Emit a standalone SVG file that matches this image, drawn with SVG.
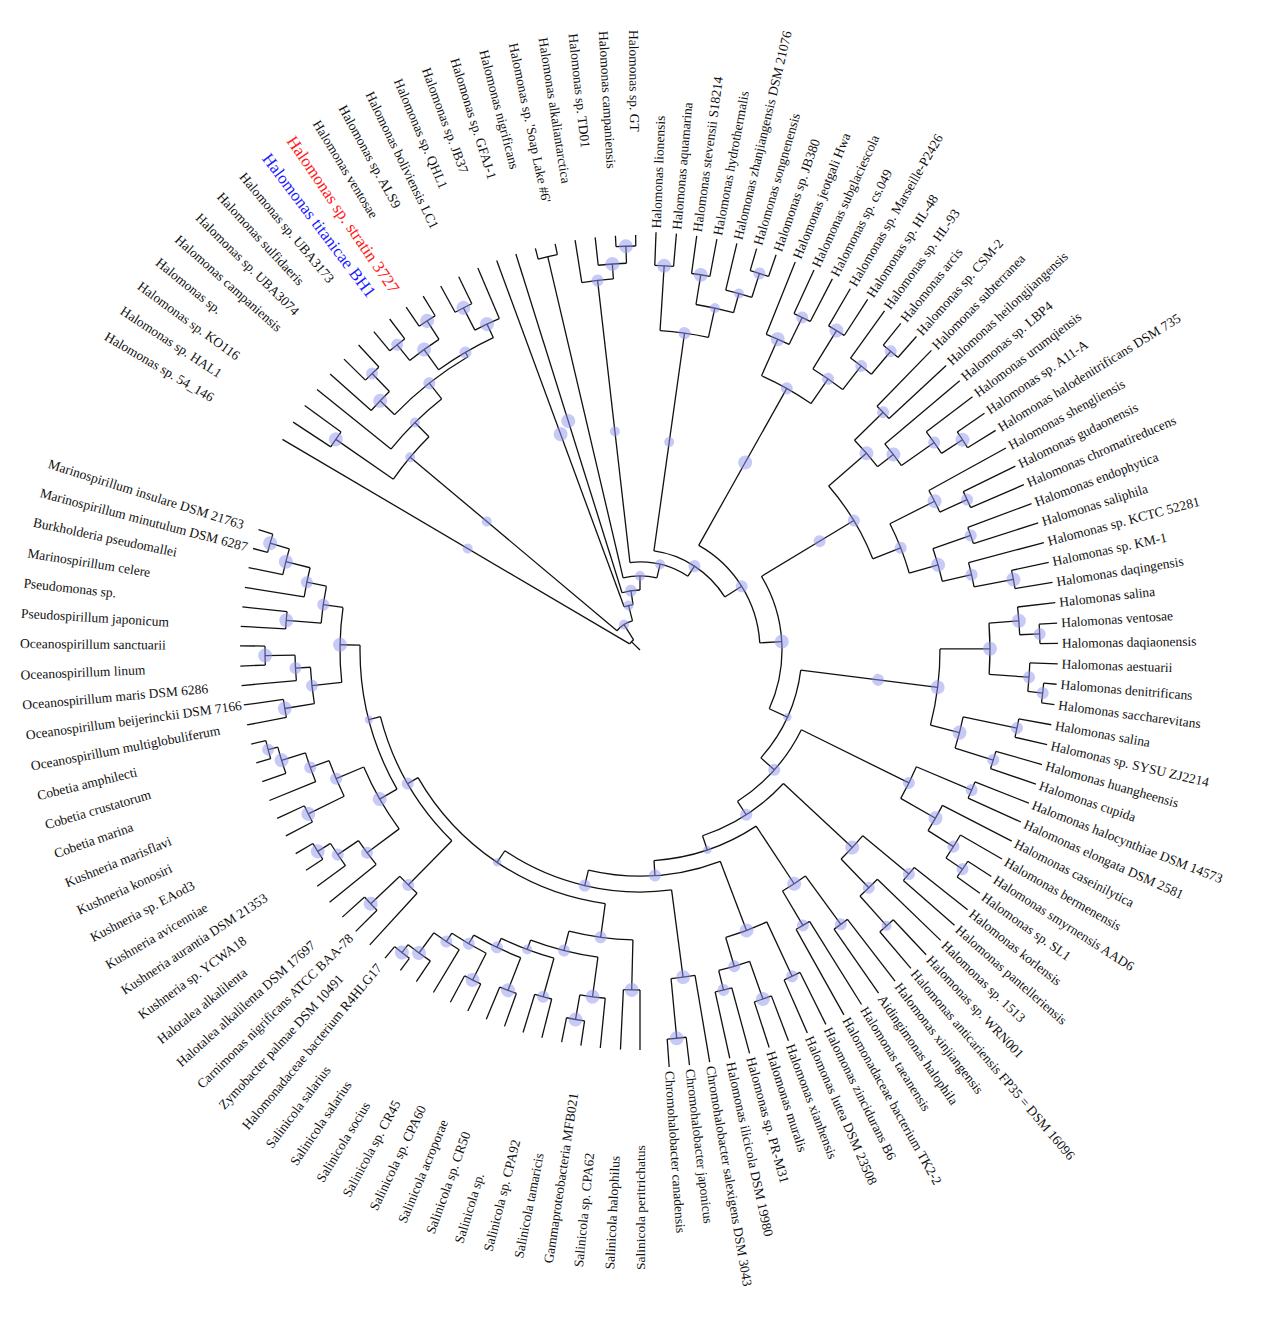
<svg xmlns="http://www.w3.org/2000/svg" width="1263" height="1317" viewBox="0 0 1263 1317">
<style>
.t{font-family:"Liberation Serif","Times New Roman",serif;font-size:13.5px;fill:#111;dominant-baseline:central}
.big{font-size:17px}
.e line,.e circle{stroke:#111;stroke-width:1.3;fill:none}
.m circle{fill:#8f96ee;opacity:.5}
</style>
<rect width="1263" height="1317" fill="#fff"/>
<g id="connectors" class="e" transform="translate(640 650)">
<line x1="0" x2="12" transform="rotate(224.15)"/>
<circle r="12" pathLength="360" stroke-dasharray="27.3 400" transform="rotate(210.5)"/>
<line x1="12" x2="415" transform="rotate(210.5)"/><line x1="12" x2="30" transform="rotate(237.8)"/>
<circle r="30" pathLength="360" stroke-dasharray="35.55 400" transform="rotate(220)"/>
<line x1="30" x2="300" transform="rotate(220)"/><line x1="30" x2="46" transform="rotate(255.55)"/>
<circle r="46" pathLength="360" stroke-dasharray="11.5 400" transform="rotate(249.8)"/>
<line x1="46" x2="415" transform="rotate(249.8)"/><line x1="46" x2="60" transform="rotate(261.3)"/>
<circle r="60" pathLength="360" stroke-dasharray="17.4 400" transform="rotate(252.6)"/>
<line x1="60" x2="415" transform="rotate(252.6)"/><line x1="60" x2="74" transform="rotate(270)"/>
<circle r="74" pathLength="360" stroke-dasharray="26.4 400" transform="rotate(256.8)"/>
<line x1="74" x2="404" transform="rotate(256.8)"/><line x1="74" x2="88" transform="rotate(283.2)"/>
<circle r="88" pathLength="360" stroke-dasharray="39.55 400" transform="rotate(263.45)"/>
<line x1="88" x2="372" transform="rotate(263.45)"/><line x1="88" x2="100" transform="rotate(303)"/>
<circle r="100" pathLength="360" stroke-dasharray="49.95 400" transform="rotate(278)"/>
<line x1="100" x2="320" transform="rotate(278)"/><line x1="100" x2="120" transform="rotate(327.95)"/>
<circle r="120" pathLength="360" stroke-dasharray="57.3 400" transform="rotate(299.3)"/>
<line x1="120" x2="300" transform="rotate(299.3)"/><line x1="120" x2="142" transform="rotate(356.6)"/>
<circle r="142" pathLength="360" stroke-dasharray="55.65 400" transform="rotate(328.8)"/>
<line x1="142" x2="250" transform="rotate(328.8)"/><line x1="142" x2="162" transform="rotate(384.45)"/>
<circle r="162" pathLength="360" stroke-dasharray="34.6 400" transform="rotate(367.15)"/>
<line x1="162" x2="300" transform="rotate(367.15)"/><line x1="162" x2="180" transform="rotate(401.75)"/>
<circle r="180" pathLength="360" stroke-dasharray="30.9 400" transform="rotate(386.3)"/>
<line x1="180" x2="300" transform="rotate(386.3)"/><line x1="180" x2="196" transform="rotate(417.2)"/>
<circle r="196" pathLength="360" stroke-dasharray="28.45 400" transform="rotate(402.95)"/>
<line x1="196" x2="290" transform="rotate(402.95)"/><line x1="196" x2="211" transform="rotate(431.4)"/>
<circle r="211" pathLength="360" stroke-dasharray="29.6 400" transform="rotate(416.6)"/>
<line x1="211" x2="280" transform="rotate(416.6)"/><line x1="211" x2="226" transform="rotate(446.2)"/>
<circle r="226" pathLength="360" stroke-dasharray="34 400" transform="rotate(429.2)"/>
<line x1="226" x2="300" transform="rotate(429.2)"/><line x1="226" x2="242" transform="rotate(463.2)"/>
<circle r="242" pathLength="360" stroke-dasharray="41.45 400" transform="rotate(442.5)"/>
<line x1="242" x2="330" transform="rotate(442.5)"/><line x1="242" x2="256" transform="rotate(483.95)"/>
<circle r="256" pathLength="360" stroke-dasharray="52.3 400" transform="rotate(457.8)"/>
<line x1="256" x2="290" transform="rotate(457.8)"/><line x1="256" x2="268" transform="rotate(510.1)"/>
<circle r="268" pathLength="360" stroke-dasharray="31 400" transform="rotate(494.6)"/>
<line x1="268" x2="330" transform="rotate(494.6)"/><line x1="268" x2="280" transform="rotate(525.6)"/>
<circle r="280" pathLength="360" stroke-dasharray="30.8 400" transform="rotate(510.2)"/>
<line x1="280" x2="300" transform="rotate(510.2)"/><line x1="280" x2="300" transform="rotate(541)"/>
<!-- TL clade -->
<circle r="300" pathLength="360" stroke-dasharray="10.6 400" transform="rotate(214.7)"/>
<line x1="300" x2="370" transform="rotate(214.7)"/><line x1="300" x2="320" transform="rotate(225.3)"/>
<circle r="370" pathLength="360" stroke-dasharray="2.8 400" transform="rotate(213.3)"/>
<line x1="370" x2="415" transform="rotate(213.3)"/><line x1="370" x2="415" transform="rotate(216.1)"/>
<circle r="320" pathLength="360" stroke-dasharray="12.8 400" transform="rotate(218.9)"/>
<line x1="320" x2="415" transform="rotate(218.9)"/><line x1="320" x2="340" transform="rotate(231.7)"/>
<circle r="340" pathLength="360" stroke-dasharray="15.8 400" transform="rotate(223.8)"/>
<line x1="340" x2="360" transform="rotate(223.8)"/><line x1="340" x2="345" transform="rotate(239.6)"/>
<circle r="360" pathLength="360" stroke-dasharray="4.2 400" transform="rotate(221.7)"/>
<line x1="360" x2="415" transform="rotate(221.7)"/><line x1="360" x2="385" transform="rotate(225.9)"/>
<circle r="385" pathLength="360" stroke-dasharray="2.8 400" transform="rotate(224.5)"/>
<line x1="385" x2="415" transform="rotate(224.5)"/><line x1="385" x2="415" transform="rotate(227.3)"/>
<circle r="345" pathLength="360" stroke-dasharray="10.55 400" transform="rotate(234.3)"/>
<line x1="345" x2="370" transform="rotate(234.3)"/><line x1="345" x2="360" transform="rotate(244.85)"/>
<circle r="370" pathLength="360" stroke-dasharray="5.6 400" transform="rotate(231.5)"/>
<line x1="370" x2="390" transform="rotate(231.5)"/><line x1="370" x2="392" transform="rotate(237.1)"/>
<circle r="390" pathLength="360" stroke-dasharray="2.8 400" transform="rotate(230.1)"/>
<line x1="390" x2="415" transform="rotate(230.1)"/><line x1="390" x2="415" transform="rotate(232.9)"/>
<circle r="392" pathLength="360" stroke-dasharray="2.8 400" transform="rotate(235.7)"/>
<line x1="392" x2="415" transform="rotate(235.7)"/><line x1="392" x2="415" transform="rotate(238.5)"/>
<circle r="360" pathLength="360" stroke-dasharray="4.3 400" transform="rotate(242.7)"/>
<line x1="360" x2="385" transform="rotate(242.7)"/><line x1="360" x2="415" transform="rotate(247)"/>
<circle r="385" pathLength="360" stroke-dasharray="2.8 400" transform="rotate(241.3)"/>
<line x1="385" x2="415" transform="rotate(241.3)"/><line x1="385" x2="415" transform="rotate(244.1)"/>
<!-- B16-B21 -->
<circle r="404" pathLength="360" stroke-dasharray="2.8 400" transform="rotate(255.4)"/>
<line x1="404" x2="415" transform="rotate(255.4)"/><line x1="404" x2="415" transform="rotate(258.2)"/>
<circle r="372" pathLength="360" stroke-dasharray="4.9 400" transform="rotate(261)"/>
<line x1="372" x2="415" transform="rotate(261)"/><line x1="372" x2="387" transform="rotate(265.9)"/>
<circle r="387" pathLength="360" stroke-dasharray="4.2 400" transform="rotate(263.8)"/>
<line x1="387" x2="415" transform="rotate(263.8)"/><line x1="387" x2="404" transform="rotate(268)"/>
<circle r="404" pathLength="360" stroke-dasharray="2.8 400" transform="rotate(266.6)"/>
<line x1="404" x2="415" transform="rotate(266.6)"/><line x1="404" x2="415" transform="rotate(269.4)"/>
<!-- C1 -->
<circle r="320" pathLength="360" stroke-dasharray="8.75 400" transform="rotate(273.6)"/>
<line x1="320" x2="385" transform="rotate(273.6)"/><line x1="320" x2="350" transform="rotate(282.35)"/>
<circle r="385" pathLength="360" stroke-dasharray="2.8 400" transform="rotate(272.2)"/>
<line x1="385" x2="418" transform="rotate(272.2)"/><line x1="385" x2="418" transform="rotate(275)"/>
<circle r="350" pathLength="360" stroke-dasharray="6.3 400" transform="rotate(279.2)"/>
<line x1="350" x2="380" transform="rotate(279.2)"/><line x1="350" x2="370" transform="rotate(285.5)"/>
<circle r="380" pathLength="360" stroke-dasharray="2.8 400" transform="rotate(277.8)"/>
<line x1="380" x2="418" transform="rotate(277.8)"/><line x1="380" x2="418" transform="rotate(280.6)"/>
<circle r="370" pathLength="360" stroke-dasharray="4.2 400" transform="rotate(283.4)"/>
<line x1="370" x2="418" transform="rotate(283.4)"/><line x1="370" x2="395" transform="rotate(287.6)"/>
<circle r="395" pathLength="360" stroke-dasharray="2.8 400" transform="rotate(286.2)"/>
<line x1="395" x2="418" transform="rotate(286.2)"/><line x1="395" x2="418" transform="rotate(289)"/>
<!-- C2 -->
<circle r="300" pathLength="360" stroke-dasharray="10.85 400" transform="rotate(293.9)"/>
<line x1="300" x2="340" transform="rotate(293.9)"/><line x1="300" x2="330" transform="rotate(304.75)"/>
<circle r="340" pathLength="360" stroke-dasharray="4.2 400" transform="rotate(291.8)"/>
<line x1="340" x2="418" transform="rotate(291.8)"/><line x1="340" x2="370" transform="rotate(296)"/>
<circle r="370" pathLength="360" stroke-dasharray="2.8 400" transform="rotate(294.6)"/>
<line x1="370" x2="418" transform="rotate(294.6)"/><line x1="370" x2="418" transform="rotate(297.4)"/>
<circle r="330" pathLength="360" stroke-dasharray="6.3 400" transform="rotate(301.6)"/>
<line x1="330" x2="375" transform="rotate(301.6)"/><line x1="330" x2="360" transform="rotate(307.9)"/>
<circle r="375" pathLength="360" stroke-dasharray="2.8 400" transform="rotate(300.2)"/>
<line x1="375" x2="418" transform="rotate(300.2)"/><line x1="375" x2="418" transform="rotate(303)"/>
<circle r="360" pathLength="360" stroke-dasharray="4.2 400" transform="rotate(305.8)"/>
<line x1="360" x2="418" transform="rotate(305.8)"/><line x1="360" x2="390" transform="rotate(310)"/>
<circle r="390" pathLength="360" stroke-dasharray="2.8 400" transform="rotate(308.6)"/>
<line x1="390" x2="418" transform="rotate(308.6)"/><line x1="390" x2="418" transform="rotate(311.4)"/>
<!-- C3 -->
<circle r="250" pathLength="360" stroke-dasharray="19.6 400" transform="rotate(319)"/>
<line x1="250" x2="300" transform="rotate(319)"/><line x1="250" x2="280" transform="rotate(338.6)"/>
<circle r="300" pathLength="360" stroke-dasharray="6.7 400" transform="rotate(315.65)"/>
<line x1="300" x2="340" transform="rotate(315.65)"/><line x1="300" x2="320" transform="rotate(322.35)"/>
<circle r="340" pathLength="360" stroke-dasharray="2.9 400" transform="rotate(314.2)"/>
<line x1="340" x2="418" transform="rotate(314.2)"/><line x1="340" x2="418" transform="rotate(317.1)"/>
<circle r="320" pathLength="360" stroke-dasharray="4.9 400" transform="rotate(319.9)"/>
<line x1="320" x2="418" transform="rotate(319.9)"/><line x1="320" x2="360" transform="rotate(324.8)"/>
<circle r="360" pathLength="360" stroke-dasharray="4.2 400" transform="rotate(322.7)"/>
<line x1="360" x2="418" transform="rotate(322.7)"/><line x1="360" x2="385" transform="rotate(326.9)"/>
<circle r="385" pathLength="360" stroke-dasharray="2.8 400" transform="rotate(325.5)"/>
<line x1="385" x2="418" transform="rotate(325.5)"/><line x1="385" x2="418" transform="rotate(328.3)"/>
<circle r="280" pathLength="360" stroke-dasharray="10.85 400" transform="rotate(333.2)"/>
<line x1="280" x2="330" transform="rotate(333.2)"/><line x1="280" x2="310" transform="rotate(344.05)"/>
<circle r="330" pathLength="360" stroke-dasharray="4.2 400" transform="rotate(331.1)"/>
<line x1="330" x2="418" transform="rotate(331.1)"/><line x1="330" x2="360" transform="rotate(335.3)"/>
<circle r="360" pathLength="360" stroke-dasharray="2.8 400" transform="rotate(333.9)"/>
<line x1="360" x2="418" transform="rotate(333.9)"/><line x1="360" x2="418" transform="rotate(336.7)"/>
<circle r="310" pathLength="360" stroke-dasharray="6.3 400" transform="rotate(340.9)"/>
<line x1="310" x2="350" transform="rotate(340.9)"/><line x1="310" x2="340" transform="rotate(347.2)"/>
<circle r="350" pathLength="360" stroke-dasharray="2.8 400" transform="rotate(339.5)"/>
<line x1="350" x2="418" transform="rotate(339.5)"/><line x1="350" x2="418" transform="rotate(342.3)"/>
<circle r="340" pathLength="360" stroke-dasharray="4.2 400" transform="rotate(345.1)"/>
<line x1="340" x2="418" transform="rotate(345.1)"/><line x1="340" x2="380" transform="rotate(349.3)"/>
<circle r="380" pathLength="360" stroke-dasharray="2.8 400" transform="rotate(347.9)"/>
<line x1="380" x2="418" transform="rotate(347.9)"/><line x1="380" x2="418" transform="rotate(350.7)"/>
<!-- C4 -->
<circle r="300" pathLength="360" stroke-dasharray="14.7 400" transform="rotate(359.8)"/>
<line x1="300" x2="350" transform="rotate(359.8)"/><line x1="300" x2="330" transform="rotate(374.5)"/>
<circle r="350" pathLength="360" stroke-dasharray="8.4 400" transform="rotate(355.6)"/>
<line x1="350" x2="380" transform="rotate(355.6)"/><line x1="350" x2="390" transform="rotate(364)"/>
<circle r="380" pathLength="360" stroke-dasharray="4.2 400" transform="rotate(353.5)"/>
<line x1="380" x2="418" transform="rotate(353.5)"/><line x1="380" x2="400" transform="rotate(357.7)"/>
<circle r="400" pathLength="360" stroke-dasharray="2.8 400" transform="rotate(356.3)"/>
<line x1="400" x2="418" transform="rotate(356.3)"/><line x1="400" x2="418" transform="rotate(359.1)"/>
<circle r="390" pathLength="360" stroke-dasharray="4.2 400" transform="rotate(361.9)"/>
<line x1="390" x2="418" transform="rotate(361.9)"/><line x1="390" x2="405" transform="rotate(366.1)"/>
<circle r="405" pathLength="360" stroke-dasharray="2.8 400" transform="rotate(364.7)"/>
<line x1="405" x2="418" transform="rotate(364.7)"/><line x1="405" x2="418" transform="rotate(367.5)"/>
<circle r="330" pathLength="360" stroke-dasharray="5.6 400" transform="rotate(371.7)"/>
<line x1="330" x2="385" transform="rotate(371.7)"/><line x1="330" x2="370" transform="rotate(377.3)"/>
<circle r="385" pathLength="360" stroke-dasharray="2.8 400" transform="rotate(370.3)"/>
<line x1="385" x2="418" transform="rotate(370.3)"/><line x1="385" x2="418" transform="rotate(373.1)"/>
<circle r="370" pathLength="360" stroke-dasharray="2.8 400" transform="rotate(375.9)"/>
<line x1="370" x2="418" transform="rotate(375.9)"/><line x1="370" x2="418" transform="rotate(378.7)"/>
<!-- C5 -->
<circle r="300" pathLength="360" stroke-dasharray="6.75 400" transform="rotate(382.9)"/>
<line x1="300" x2="360" transform="rotate(382.9)"/><line x1="300" x2="340" transform="rotate(389.65)"/>
<circle r="360" pathLength="360" stroke-dasharray="2.8 400" transform="rotate(381.5)"/>
<line x1="360" x2="418" transform="rotate(381.5)"/><line x1="360" x2="418" transform="rotate(384.3)"/>
<circle r="340" pathLength="360" stroke-dasharray="4.9 400" transform="rotate(387.2)"/>
<line x1="340" x2="418" transform="rotate(387.2)"/><line x1="340" x2="370" transform="rotate(392.1)"/>
<circle r="370" pathLength="360" stroke-dasharray="4.2 400" transform="rotate(390)"/>
<line x1="370" x2="418" transform="rotate(390)"/><line x1="370" x2="390" transform="rotate(394.2)"/>
<circle r="390" pathLength="360" stroke-dasharray="2.8 400" transform="rotate(392.8)"/>
<line x1="390" x2="418" transform="rotate(392.8)"/><line x1="390" x2="418" transform="rotate(395.6)"/>
<!-- C6 -->
<circle r="290" pathLength="360" stroke-dasharray="6.3 400" transform="rotate(399.8)"/>
<line x1="290" x2="350" transform="rotate(399.8)"/><line x1="290" x2="330" transform="rotate(406.1)"/>
<circle r="350" pathLength="360" stroke-dasharray="2.8 400" transform="rotate(398.4)"/>
<line x1="350" x2="418" transform="rotate(398.4)"/><line x1="350" x2="418" transform="rotate(401.2)"/>
<circle r="330" pathLength="360" stroke-dasharray="4.2 400" transform="rotate(404)"/>
<line x1="330" x2="418" transform="rotate(404)"/><line x1="330" x2="370" transform="rotate(408.2)"/>
<circle r="370" pathLength="360" stroke-dasharray="2.8 400" transform="rotate(406.8)"/>
<line x1="370" x2="418" transform="rotate(406.8)"/><line x1="370" x2="418" transform="rotate(409.6)"/>
<!-- C7 -->
<circle r="280" pathLength="360" stroke-dasharray="5.6 400" transform="rotate(413.8)"/>
<line x1="280" x2="340" transform="rotate(413.8)"/><line x1="280" x2="320" transform="rotate(419.4)"/>
<circle r="340" pathLength="360" stroke-dasharray="2.8 400" transform="rotate(412.4)"/>
<line x1="340" x2="418" transform="rotate(412.4)"/><line x1="340" x2="418" transform="rotate(415.2)"/>
<circle r="320" pathLength="360" stroke-dasharray="2.8 400" transform="rotate(418)"/>
<line x1="320" x2="418" transform="rotate(418)"/><line x1="320" x2="418" transform="rotate(420.8)"/>
<!-- C8 -->
<circle r="300" pathLength="360" stroke-dasharray="8.4 400" transform="rotate(425)"/>
<line x1="300" x2="360" transform="rotate(425)"/><line x1="300" x2="330" transform="rotate(433.4)"/>
<circle r="360" pathLength="360" stroke-dasharray="2.8 400" transform="rotate(423.6)"/>
<line x1="360" x2="418" transform="rotate(423.6)"/><line x1="360" x2="418" transform="rotate(426.4)"/>
<circle r="330" pathLength="360" stroke-dasharray="5.6 400" transform="rotate(430.6)"/>
<line x1="330" x2="370" transform="rotate(430.6)"/><line x1="330" x2="350" transform="rotate(436.2)"/>
<circle r="370" pathLength="360" stroke-dasharray="2.8 400" transform="rotate(429.2)"/>
<line x1="370" x2="418" transform="rotate(429.2)"/><line x1="370" x2="418" transform="rotate(432)"/>
<circle r="350" pathLength="360" stroke-dasharray="2.8 400" transform="rotate(434.8)"/>
<line x1="350" x2="418" transform="rotate(434.8)"/><line x1="350" x2="418" transform="rotate(437.6)"/>
<!-- C9 -->
<circle r="330" pathLength="360" stroke-dasharray="4.2 400" transform="rotate(440.4)"/>
<line x1="330" x2="418" transform="rotate(440.4)"/><line x1="330" x2="390" transform="rotate(444.6)"/>
<circle r="390" pathLength="360" stroke-dasharray="2.8 400" transform="rotate(443.2)"/>
<line x1="390" x2="418" transform="rotate(443.2)"/><line x1="390" x2="418" transform="rotate(446)"/>
<!-- C10 -->
<circle r="290" pathLength="360" stroke-dasharray="12.8 400" transform="rotate(451.4)"/>
<line x1="290" x2="340" transform="rotate(451.4)"/><line x1="290" x2="310" transform="rotate(464.2)"/>
<circle r="340" pathLength="360" stroke-dasharray="2.8 400" transform="rotate(450)"/>
<line x1="340" x2="400" transform="rotate(450)"/><line x1="340" x2="400" transform="rotate(452.8)"/>
<circle r="310" pathLength="360" stroke-dasharray="12.85 400" transform="rotate(457.8)"/>
<line x1="310" x2="350" transform="rotate(457.8)"/><line x1="310" x2="320" transform="rotate(470.65)"/>
<circle r="350" pathLength="360" stroke-dasharray="4.2 400" transform="rotate(455.7)"/>
<line x1="350" x2="400" transform="rotate(455.7)"/><line x1="350" x2="375" transform="rotate(459.9)"/>
<circle r="375" pathLength="360" stroke-dasharray="2.8 400" transform="rotate(458.5)"/>
<line x1="375" x2="400" transform="rotate(458.5)"/><line x1="375" x2="400" transform="rotate(461.3)"/>
<circle r="320" pathLength="360" stroke-dasharray="10.1 400" transform="rotate(465.6)"/>
<line x1="320" x2="360" transform="rotate(465.6)"/><line x1="320" x2="330" transform="rotate(475.7)"/>
<circle r="360" pathLength="360" stroke-dasharray="2.8 400" transform="rotate(464.2)"/>
<line x1="360" x2="400" transform="rotate(464.2)"/><line x1="360" x2="400" transform="rotate(467)"/>
<circle r="330" pathLength="360" stroke-dasharray="9.05 400" transform="rotate(471.2)"/>
<line x1="330" x2="365" transform="rotate(471.2)"/><line x1="330" x2="340" transform="rotate(480.25)"/>
<circle r="365" pathLength="360" stroke-dasharray="2.8 400" transform="rotate(469.8)"/>
<line x1="365" x2="400" transform="rotate(469.8)"/><line x1="365" x2="400" transform="rotate(472.6)"/>
<circle r="340" pathLength="360" stroke-dasharray="6.7 400" transform="rotate(476.9)"/>
<line x1="340" x2="370" transform="rotate(476.9)"/><line x1="340" x2="350" transform="rotate(483.6)"/>
<circle r="370" pathLength="360" stroke-dasharray="2.8 400" transform="rotate(475.5)"/>
<line x1="370" x2="400" transform="rotate(475.5)"/><line x1="370" x2="400" transform="rotate(478.3)"/>
<circle r="350" pathLength="360" stroke-dasharray="5 400" transform="rotate(481.1)"/>
<line x1="350" x2="400" transform="rotate(481.1)"/><line x1="350" x2="375" transform="rotate(486.1)"/>
<circle r="375" pathLength="360" stroke-dasharray="4.2 400" transform="rotate(484)"/>
<line x1="375" x2="400" transform="rotate(484)"/><line x1="375" x2="385" transform="rotate(488.2)"/>
<circle r="385" pathLength="360" stroke-dasharray="2.8 400" transform="rotate(486.8)"/>
<line x1="385" x2="400" transform="rotate(486.8)"/><line x1="385" x2="400" transform="rotate(489.6)"/>
<!-- C11 -->
<circle r="330" pathLength="360" stroke-dasharray="4.2 400" transform="rotate(492.5)"/>
<line x1="330" x2="400" transform="rotate(492.5)"/><line x1="330" x2="370" transform="rotate(496.7)"/>
<circle r="370" pathLength="360" stroke-dasharray="2.8 400" transform="rotate(495.3)"/>
<line x1="370" x2="400" transform="rotate(495.3)"/><line x1="370" x2="400" transform="rotate(498.1)"/>
<!-- C12 -->
<circle r="300" pathLength="360" stroke-dasharray="13.65 400" transform="rotate(503.4)"/>
<line x1="300" x2="340" transform="rotate(503.4)"/><line x1="300" x2="330" transform="rotate(517.05)"/>
<circle r="340" pathLength="360" stroke-dasharray="5 400" transform="rotate(500.9)"/>
<line x1="340" x2="400" transform="rotate(500.9)"/><line x1="340" x2="365" transform="rotate(505.9)"/>
<circle r="365" pathLength="360" stroke-dasharray="4.2 400" transform="rotate(503.8)"/>
<line x1="365" x2="400" transform="rotate(503.8)"/><line x1="365" x2="380" transform="rotate(508)"/>
<circle r="380" pathLength="360" stroke-dasharray="2.8 400" transform="rotate(506.6)"/>
<line x1="380" x2="400" transform="rotate(506.6)"/><line x1="380" x2="400" transform="rotate(509.4)"/>
<circle r="330" pathLength="360" stroke-dasharray="6.7 400" transform="rotate(513.7)"/>
<line x1="330" x2="370" transform="rotate(513.7)"/><line x1="330" x2="350" transform="rotate(520.4)"/>
<circle r="370" pathLength="360" stroke-dasharray="2.8 400" transform="rotate(512.3)"/>
<line x1="370" x2="400" transform="rotate(512.3)"/><line x1="370" x2="400" transform="rotate(515.1)"/>
<circle r="350" pathLength="360" stroke-dasharray="5 400" transform="rotate(517.9)"/>
<line x1="350" x2="400" transform="rotate(517.9)"/><line x1="350" x2="375" transform="rotate(522.9)"/>
<circle r="375" pathLength="360" stroke-dasharray="4.2 400" transform="rotate(520.8)"/>
<line x1="375" x2="400" transform="rotate(520.8)"/><line x1="375" x2="385" transform="rotate(525)"/>
<circle r="385" pathLength="360" stroke-dasharray="2.8 400" transform="rotate(523.6)"/>
<line x1="385" x2="400" transform="rotate(523.6)"/><line x1="385" x2="400" transform="rotate(526.4)"/>
<!-- C13 -->
<circle r="300" pathLength="360" stroke-dasharray="14.35 400" transform="rotate(533.8)"/>
<line x1="300" x2="330" transform="rotate(533.8)"/><line x1="300" x2="320" transform="rotate(548.15)"/>
<circle r="330" pathLength="360" stroke-dasharray="6.35 400" transform="rotate(530.65)"/>
<line x1="330" x2="360" transform="rotate(530.65)"/><line x1="330" x2="345" transform="rotate(537)"/>
<circle r="360" pathLength="360" stroke-dasharray="2.9 400" transform="rotate(529.2)"/>
<line x1="360" x2="400" transform="rotate(529.2)"/><line x1="360" x2="400" transform="rotate(532.1)"/>
<circle r="345" pathLength="360" stroke-dasharray="4.25 400" transform="rotate(534.9)"/>
<line x1="345" x2="400" transform="rotate(534.9)"/><line x1="345" x2="375" transform="rotate(539.15)"/>
<circle r="375" pathLength="360" stroke-dasharray="2.9 400" transform="rotate(537.7)"/>
<line x1="375" x2="400" transform="rotate(537.7)"/><line x1="375" x2="400" transform="rotate(540.6)"/>
<circle r="320" pathLength="360" stroke-dasharray="6.7 400" transform="rotate(544.8)"/>
<line x1="320" x2="355" transform="rotate(544.8)"/><line x1="320" x2="340" transform="rotate(551.5)"/>
<circle r="355" pathLength="360" stroke-dasharray="2.8 400" transform="rotate(543.4)"/>
<line x1="355" x2="400" transform="rotate(543.4)"/><line x1="355" x2="400" transform="rotate(546.2)"/>
<circle r="340" pathLength="360" stroke-dasharray="5 400" transform="rotate(549)"/>
<line x1="340" x2="400" transform="rotate(549)"/><line x1="340" x2="365" transform="rotate(554)"/>
<circle r="365" pathLength="360" stroke-dasharray="4.2 400" transform="rotate(551.9)"/>
<line x1="365" x2="400" transform="rotate(551.9)"/><line x1="365" x2="385" transform="rotate(556.1)"/>
<circle r="385" pathLength="360" stroke-dasharray="2.8 400" transform="rotate(554.7)"/>
<line x1="385" x2="400" transform="rotate(554.7)"/><line x1="385" x2="400" transform="rotate(557.5)"/>
</g>
<g id="support" class="m" transform="translate(640 650)">
<circle cx="30" r="5" transform="rotate(237.8)"/><circle cx="46" r="5" transform="rotate(255.55)"/><circle cx="60" r="6" transform="rotate(261.3)"/><circle cx="74" r="5" transform="rotate(270)"/><circle cx="88" r="5" transform="rotate(283.2)"/><circle cx="100" r="6" transform="rotate(303)"/><circle cx="120" r="6" transform="rotate(327.95)"/><circle cx="142" r="7" transform="rotate(356.6)"/><circle cx="162" r="4" transform="rotate(384.45)"/><circle cx="180" r="6" transform="rotate(401.75)"/><circle cx="196" r="6" transform="rotate(417.2)"/><circle cx="211" r="4" transform="rotate(431.4)"/><circle cx="226" r="6" transform="rotate(446.2)"/><circle cx="242" r="6" transform="rotate(463.2)"/><circle cx="256" r="4" transform="rotate(483.95)"/><circle cx="268" r="6" transform="rotate(510.1)"/><circle cx="280" r="4" transform="rotate(525.6)"/>
<circle cx="200" r="5" transform="rotate(210.5)"/><circle cx="200" r="5" transform="rotate(220)"/><circle cx="230" r="7" transform="rotate(249.8)"/><circle cx="240" r="7" transform="rotate(252.6)"/><circle cx="220" r="5" transform="rotate(263.45)"/><circle cx="210" r="5" transform="rotate(278)"/><circle cx="215" r="7" transform="rotate(299.3)"/><circle cx="210" r="6" transform="rotate(328.8)"/><circle cx="240" r="6" transform="rotate(367.15)"/>
<circle cx="300" r="5" transform="rotate(220)"/><circle cx="370" r="7" transform="rotate(214.7)"/><circle cx="320" r="5" transform="rotate(225.3)"/><circle cx="340" r="6" transform="rotate(231.7)"/><circle cx="360" r="7" transform="rotate(223.8)"/><circle cx="385" r="6" transform="rotate(225.9)"/><circle cx="345" r="6" transform="rotate(239.6)"/><circle cx="370" r="7" transform="rotate(234.3)"/><circle cx="390" r="6" transform="rotate(231.5)"/><circle cx="392" r="7" transform="rotate(237.1)"/><circle cx="360" r="7" transform="rotate(244.85)"/><circle cx="385" r="7" transform="rotate(242.7)"/><circle cx="372" r="6" transform="rotate(263.45)"/><circle cx="387" r="7" transform="rotate(265.9)"/><circle cx="404" r="7" transform="rotate(268)"/>
<circle cx="320" r="6" transform="rotate(278)"/><circle cx="385" r="7" transform="rotate(273.6)"/><circle cx="350" r="5" transform="rotate(282.35)"/><circle cx="380" r="7" transform="rotate(279.2)"/><circle cx="370" r="5" transform="rotate(285.5)"/><circle cx="395" r="6" transform="rotate(287.6)"/>
<circle cx="300" r="6" transform="rotate(299.3)"/><circle cx="340" r="7" transform="rotate(293.9)"/><circle cx="370" r="6" transform="rotate(296)"/><circle cx="330" r="6" transform="rotate(304.75)"/><circle cx="375" r="7" transform="rotate(301.6)"/><circle cx="360" r="6" transform="rotate(307.9)"/><circle cx="390" r="6" transform="rotate(310)"/>
<circle cx="250" r="6" transform="rotate(328.8)"/><circle cx="300" r="7" transform="rotate(319)"/><circle cx="340" r="6" transform="rotate(315.65)"/><circle cx="320" r="7" transform="rotate(322.35)"/><circle cx="360" r="6" transform="rotate(324.8)"/><circle cx="385" r="7" transform="rotate(326.9)"/><circle cx="280" r="6" transform="rotate(338.6)"/><circle cx="330" r="7" transform="rotate(333.2)"/><circle cx="360" r="6" transform="rotate(335.3)"/><circle cx="310" r="7" transform="rotate(344.05)"/><circle cx="350" r="6" transform="rotate(340.9)"/><circle cx="340" r="6" transform="rotate(347.2)"/><circle cx="380" r="7" transform="rotate(349.3)"/>
<circle cx="300" r="7" transform="rotate(367.15)"/><circle cx="350" r="7" transform="rotate(359.8)"/><circle cx="380" r="7" transform="rotate(355.6)"/><circle cx="400" r="6" transform="rotate(357.7)"/><circle cx="390" r="6" transform="rotate(364)"/><circle cx="405" r="6" transform="rotate(366.1)"/><circle cx="330" r="7" transform="rotate(374.5)"/><circle cx="385" r="6" transform="rotate(371.7)"/><circle cx="370" r="6" transform="rotate(377.3)"/>
<circle cx="300" r="6" transform="rotate(386.3)"/><circle cx="360" r="6" transform="rotate(382.9)"/><circle cx="340" r="7" transform="rotate(389.65)"/><circle cx="370" r="6" transform="rotate(392.1)"/><circle cx="390" r="6" transform="rotate(394.2)"/>
<circle cx="290" r="7" transform="rotate(402.95)"/><circle cx="350" r="6" transform="rotate(399.8)"/><circle cx="330" r="6" transform="rotate(406.1)"/><circle cx="370" r="5" transform="rotate(408.2)"/>
<circle cx="280" r="7" transform="rotate(416.6)"/><circle cx="340" r="6" transform="rotate(413.8)"/><circle cx="320" r="6" transform="rotate(419.4)"/>
<circle cx="300" r="7" transform="rotate(429.2)"/><circle cx="360" r="6" transform="rotate(425)"/><circle cx="330" r="6" transform="rotate(433.4)"/><circle cx="370" r="7" transform="rotate(430.6)"/><circle cx="350" r="6" transform="rotate(436.2)"/>
<circle cx="330" r="7" transform="rotate(442.5)"/><circle cx="390" r="7" transform="rotate(444.6)"/>
<circle cx="290" r="6" transform="rotate(457.8)"/><circle cx="340" r="7" transform="rotate(451.4)"/><circle cx="310" r="6" transform="rotate(464.2)"/><circle cx="350" r="7" transform="rotate(457.8)"/><circle cx="375" r="7" transform="rotate(459.9)"/><circle cx="320" r="5" transform="rotate(470.65)"/><circle cx="360" r="6" transform="rotate(465.6)"/><circle cx="330" r="6" transform="rotate(475.7)"/><circle cx="365" r="7" transform="rotate(471.2)"/><circle cx="340" r="6" transform="rotate(480.25)"/><circle cx="370" r="7" transform="rotate(476.9)"/><circle cx="350" r="6" transform="rotate(483.6)"/><circle cx="375" r="7" transform="rotate(486.1)"/><circle cx="385" r="7" transform="rotate(488.2)"/>
<circle cx="330" r="6" transform="rotate(494.6)"/><circle cx="370" r="7" transform="rotate(496.7)"/>
<circle cx="300" r="7" transform="rotate(510.2)"/><circle cx="340" r="6" transform="rotate(503.4)"/><circle cx="365" r="6" transform="rotate(505.9)"/><circle cx="380" r="7" transform="rotate(508)"/><circle cx="330" r="6" transform="rotate(517.05)"/><circle cx="370" r="7" transform="rotate(513.7)"/><circle cx="350" r="6" transform="rotate(520.4)"/><circle cx="375" r="7" transform="rotate(522.9)"/><circle cx="385" r="6" transform="rotate(525)"/>
<circle cx="300" r="7" transform="rotate(541)"/><circle cx="330" r="6" transform="rotate(533.8)"/><circle cx="360" r="7" transform="rotate(530.65)"/><circle cx="345" r="6" transform="rotate(537)"/><circle cx="375" r="7" transform="rotate(539.15)"/><circle cx="320" r="6" transform="rotate(548.15)"/><circle cx="355" r="7" transform="rotate(544.8)"/><circle cx="340" r="6" transform="rotate(551.5)"/><circle cx="365" r="7" transform="rotate(554)"/><circle cx="385" r="7" transform="rotate(556.1)"/>
</g>
<g id="labels" class="t" transform="translate(640 650)">
<g id="left-top">
<text transform="rotate(210.5) translate(620 0) rotate(180)">Halomonas sp. 54_146</text>
<text transform="rotate(213.3) translate(620 0) rotate(180)">Halomonas sp. HAL1</text>
<text transform="rotate(216.1) translate(620 0) rotate(180)">Halomonas sp. KO116</text>
<text transform="rotate(218.9) translate(620 0) rotate(180)">Halomonas sp.</text>
<text transform="rotate(221.7) translate(620 0) rotate(180)">Halomonas campaniensis</text>
<text transform="rotate(224.5) translate(620 0) rotate(180)">Halomonas sp. UBA3074</text>
<text transform="rotate(227.3) translate(620 0) rotate(180)">Halomonas sulfidaeris</text>
<text transform="rotate(230.1) translate(620 0) rotate(180)">Halomonas sp. UBA3173</text>
<text class="big" fill="#1a1aff" style="fill:#1a1aff" transform="rotate(232.9) translate(620 0) rotate(180)">Halomonas titanicae BH1</text>
<text class="big" style="fill:#ff2020" transform="rotate(235.7) translate(620 0) rotate(180)">Halomonas sp. stratin 3727</text>
<text transform="rotate(238.5) translate(620 0) rotate(180)">Halomonas ventosae</text>
<text transform="rotate(241.3) translate(620 0) rotate(180)">Halomonas sp. ALS9</text>
<text transform="rotate(244.1) translate(620 0) rotate(180)">Halomonas boliviensis LC1</text>
<text transform="rotate(247) translate(620 0) rotate(180)">Halomonas sp. QHL1</text>
<text transform="rotate(249.8) translate(620 0) rotate(180)">Halomonas sp. JB37</text>
<text transform="rotate(252.6) translate(620 0) rotate(180)">Halomonas sp. GFAJ-1</text>
<text transform="rotate(255.4) translate(620 0) rotate(180)">Halomonas nigrificans</text>
<text transform="rotate(258.2) translate(620 0) rotate(180)">Halomonas sp. 'Soap Lake #6'</text>
<text transform="rotate(261) translate(620 0) rotate(180)">Halomonas alkaliantarctica</text>
<text transform="rotate(263.8) translate(620 0) rotate(180)">Halomonas sp. TD01</text>
<text transform="rotate(266.6) translate(620 0) rotate(180)">Halomonas campaniensis</text>
<text transform="rotate(269.4) translate(620 0) rotate(180)">Halomonas sp. GT</text>
</g>
<g id="right">
<text transform="rotate(272.2) translate(422 0)">Halomonas lionensis</text>
<text transform="rotate(275) translate(422 0)">Halomonas aquamarina</text>
<text transform="rotate(277.8) translate(422 0)">Halomonas stevensii S18214</text>
<text transform="rotate(280.6) translate(422 0)">Halomonas hydrothermalis</text>
<text transform="rotate(283.4) translate(422 0)">Halomonas zhanjiangensis DSM 21076</text>
<text transform="rotate(286.2) translate(422 0)">Halomonas songnenensis</text>
<text transform="rotate(289) translate(422 0)">Halomonas sp. JB380</text>
<text transform="rotate(291.8) translate(422 0)">Halomonas jeotgali Hwa</text>
<text transform="rotate(294.6) translate(422 0)">Halomonas subglaciescola</text>
<text transform="rotate(297.4) translate(422 0)">Halomonas sp. cs.049</text>
<text transform="rotate(300.2) translate(422 0)">Halomonas sp. Marseille-P2426</text>
<text transform="rotate(303) translate(422 0)">Halomonas sp. HL-48</text>
<text transform="rotate(305.8) translate(422 0)">Halomonas sp. HL-93</text>
<text transform="rotate(308.6) translate(422 0)">Halomonas arcis</text>
<text transform="rotate(311.4) translate(422 0)">Halomonas sp. CSM-2</text>
<text transform="rotate(314.2) translate(422 0)">Halomonas subterranea</text>
<text transform="rotate(317.1) translate(422 0)">Halomonas heilongjiangensis</text>
<text transform="rotate(319.9) translate(422 0)">Halomonas sp. LBP4</text>
<text transform="rotate(322.7) translate(422 0)">Halomonas urumqiensis</text>
<text transform="rotate(325.5) translate(422 0)">Halomonas sp. A11-A</text>
<text transform="rotate(328.3) translate(422 0)">Halomonas halodenitrificans DSM 735</text>
<text transform="rotate(331.1) translate(422 0)">Halomonas shengliensis</text>
<text transform="rotate(333.9) translate(422 0)">Halomonas gudaonensis</text>
<text transform="rotate(336.7) translate(422 0)">Halomonas chromatireducens</text>
<text transform="rotate(339.5) translate(422 0)">Halomonas endophytica</text>
<text transform="rotate(342.3) translate(422 0)">Halomonas saliphila</text>
<text transform="rotate(345.1) translate(422 0)">Halomonas sp. KCTC 52281</text>
<text transform="rotate(347.9) translate(422 0)">Halomonas sp. KM-1</text>
<text transform="rotate(350.7) translate(422 0)">Halomonas daqingensis</text>
<text transform="rotate(353.5) translate(422 0)">Halomonas salina</text>
<text transform="rotate(356.3) translate(422 0)">Halomonas ventosae</text>
<text transform="rotate(359.1) translate(422 0)">Halomonas daqiaonensis</text>
<text transform="rotate(1.9) translate(422 0)">Halomonas aestuarii</text>
<text transform="rotate(4.7) translate(422 0)">Halomonas denitrificans</text>
<text transform="rotate(7.5) translate(422 0)">Halomonas saccharevitans</text>
<text transform="rotate(10.3) translate(422 0)">Halomonas salina</text>
<text transform="rotate(13.1) translate(422 0)">Halomonas sp. SYSU ZJ2214</text>
<text transform="rotate(15.9) translate(422 0)">Halomonas huangheensis</text>
<text transform="rotate(18.7) translate(422 0)">Halomonas cupida</text>
<text transform="rotate(21.5) translate(422 0)">Halomonas halocynthiae DSM 14573</text>
<text transform="rotate(24.3) translate(422 0)">Halomonas elongata DSM 2581</text>
<text transform="rotate(27.2) translate(422 0)">Halomonas caseinilytica</text>
<text transform="rotate(30) translate(422 0)">Halomonas bermenensis</text>
<text transform="rotate(32.8) translate(422 0)">Halomonas smyrnensis AAD6</text>
<text transform="rotate(35.6) translate(422 0)">Halomonas sp. SL1</text>
<text transform="rotate(38.4) translate(422 0)">Halomonas korlensis</text>
<text transform="rotate(41.2) translate(422 0)">Halomonas pantelleriensis</text>
<text transform="rotate(44) translate(422 0)">Halomonas sp. 1513</text>
<text transform="rotate(46.8) translate(422 0)">Halomonas sp. WRN001</text>
<text transform="rotate(49.6) translate(422 0)">Halomonas anticariensis FP35 = DSM 16096</text>
<text transform="rotate(52.4) translate(422 0)">Halomonas xinjiangensis</text>
<text transform="rotate(55.2) translate(422 0)">Aidingimonas halophila</text>
<text transform="rotate(58) translate(422 0)">Halomonas taeanensis</text>
<text transform="rotate(60.8) translate(422 0)">Halomonadaceae bacterium TK2-2</text>
<text transform="rotate(63.6) translate(422 0)">Halomonas zincidurans B6</text>
<text transform="rotate(66.4) translate(422 0)">Halomonas lutea DSM 23508</text>
<text transform="rotate(69.2) translate(422 0)">Halomonas xianhensis</text>
<text transform="rotate(72) translate(422 0)">Halomonas muralis</text>
<text transform="rotate(74.8) translate(422 0)">Halomonas sp. PR-M31</text>
<text transform="rotate(77.6) translate(422 0)">Halomonas ilicicola DSM 19980</text>
<text transform="rotate(80.4) translate(422 0)">Chromohalobacter salexigens DSM 3043</text>
<text transform="rotate(83.2) translate(422 0)">Chromohalobacter japonicus</text>
<text transform="rotate(86) translate(422 0)">Chromohalobacter canadensis</text>
</g>
<g id="left">
<text transform="rotate(90) translate(620 0) rotate(180)">Salinicola peritrichatus</text>
<text transform="rotate(92.8) translate(620 0) rotate(180)">Salinicola halophilus</text>
<text transform="rotate(95.7) translate(620 0) rotate(180)">Salinicola sp. CPA62</text>
<text transform="rotate(98.5) translate(620 0) rotate(180)">Gammaproteobacteria  MFB021</text>
<text transform="rotate(101.3) translate(620 0) rotate(180)">Salinicola tamaricis</text>
<text transform="rotate(104.2) translate(620 0) rotate(180)">Salinicola sp. CPA92</text>
<text transform="rotate(107) translate(620 0) rotate(180)">Salinicola sp.</text>
<text transform="rotate(109.8) translate(620 0) rotate(180)">Salinicola sp. CR50</text>
<text transform="rotate(112.6) translate(620 0) rotate(180)">Salinicola acroporae</text>
<text transform="rotate(115.5) translate(620 0) rotate(180)">Salinicola sp. CPA60</text>
<text transform="rotate(118.3) translate(620 0) rotate(180)">Salinicola sp. CR45</text>
<text transform="rotate(121.1) translate(620 0) rotate(180)">Salinicola socius</text>
<text transform="rotate(124) translate(620 0) rotate(180)">Salinicola salarius</text>
<text transform="rotate(126.8) translate(620 0) rotate(180)">Salinicola salarius</text>
<text transform="rotate(129.6) translate(620 0) rotate(180)">Halomonadaceae bacterium R4HLG17</text>
<text transform="rotate(132.5) translate(620 0) rotate(180)">Zymobacter palmae DSM 10491</text>
<text transform="rotate(135.3) translate(620 0) rotate(180)">Carnimonas nigrificans ATCC BAA-78</text>
<text transform="rotate(138.1) translate(620 0) rotate(180)">Halotalea alkalilenta DSM 17697</text>
<text transform="rotate(140.9) translate(620 0) rotate(180)">Halotalea alkalilenta</text>
<text transform="rotate(143.8) translate(620 0) rotate(180)">Kushneria sp. YCWA18</text>
<text transform="rotate(146.6) translate(620 0) rotate(180)">Kushneria aurantia DSM 21353</text>
<text transform="rotate(149.4) translate(620 0) rotate(180)">Kushneria avicenniae</text>
<text transform="rotate(152.3) translate(620 0) rotate(180)">Kushneria sp. EAod3</text>
<text transform="rotate(155.1) translate(620 0) rotate(180)">Kushneria konosiri</text>
<text transform="rotate(157.9) translate(620 0) rotate(180)">Kushneria marisflavi</text>
<text transform="rotate(160.8) translate(620 0) rotate(180)">Cobetia marina</text>
<text transform="rotate(163.6) translate(620 0) rotate(180)">Cobetia crustatorum</text>
<text transform="rotate(166.4) translate(620 0) rotate(180)">Cobetia amphilecti</text>
<text transform="rotate(169.2) translate(620 0) rotate(180)">Oceanospirillum multiglobuliferum</text>
<text transform="rotate(172.1) translate(620 0) rotate(180)">Oceanospirillum beijerinckii DSM 7166</text>
<text transform="rotate(174.9) translate(620 0) rotate(180)">Oceanospirillum maris DSM 6286</text>
<text transform="rotate(177.7) translate(620 0) rotate(180)">Oceanospirillum linum</text>
<text transform="rotate(180.6) translate(620 0) rotate(180)">Oceanospirillum sanctuarii</text>
<text transform="rotate(183.4) translate(620 0) rotate(180)">Pseudospirillum japonicum</text>
<text transform="rotate(186.2) translate(620 0) rotate(180)">Pseudomonas sp.</text>
<text transform="rotate(189) translate(620 0) rotate(180)">Marinospirillum celere</text>
<text transform="rotate(191.9) translate(620 0) rotate(180)">Burkholderia pseudomallei</text>
<text transform="rotate(194.7) translate(620 0) rotate(180)">Marinospirillum minutulum DSM 6287</text>
<text transform="rotate(197.5) translate(620 0) rotate(180)">Marinospirillum insulare DSM 21763</text>
</g>
</g>
</svg>
